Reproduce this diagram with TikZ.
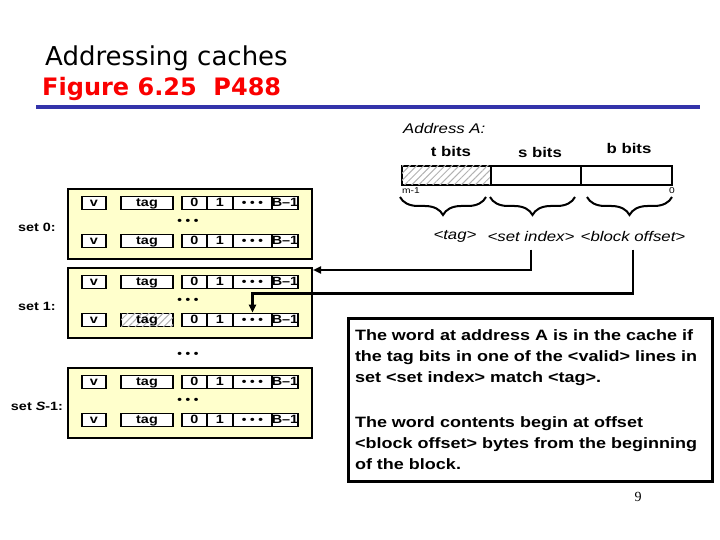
\documentclass[tikz,border=0pt]{standalone}
\usepackage{fontspec}
\setmainfont{Liberation Sans}
\newfontfamily\figfont[FakeStretch=1.2]{Liberation Sans}
\newfontfamily\titlefont{DejaVu Sans}
\newfontfamily\pagefont{Liberation Serif}
\usetikzlibrary{arrows.meta,patterns.meta,decorations.pathreplacing,positioning}
\definecolor{cacheyellow}{RGB}{255,255,204}
\definecolor{ruleblue}{RGB}{51,51,170}
\definecolor{titlered}{RGB}{250,0,0}

\tikzset{
  setbox/.style={draw, line width=2pt, fill=cacheyellow, minimum width=244pt, minimum height=70pt, inner sep=0pt},
  cell/.style={draw, line width=1.8pt, fill=white, minimum height=13pt, inner sep=0pt, text height=8.5pt, text depth=1.5pt,
               font=\figfont\bfseries\fontsize{12}{12}\selectfont},
  hatch/.style={postaction={pattern={Lines[angle=45,distance=5pt,line width=1pt]}, pattern color=gray!60}},
  field/.style={draw, line width=2pt, minimum height=19pt, inner sep=0pt},
  ptr/.style={line width=2.5pt, -{Triangle[length=8pt,width=7pt]}},
  brc/.style={decorate, decoration={brace, amplitude=18pt, mirror}, line width=2pt},
  lblbf/.style={font=\figfont\bfseries\fontsize{14}{14}\selectfont},
  lblit/.style={font=\figfont\itshape\fontsize{14}{14}\selectfont},
  dots/.style={font=\figfont\bfseries\fontsize{11}{11}\selectfont},
}

\begin{document}
\begin{tikzpicture}[x=1pt,y=-1pt]
    \useasboundingbox (0,0) rectangle (720,540);

    % Title
    \node[anchor=base west, inner sep=0pt, font=\titlefont\fontsize{26}{26}\selectfont] (title) at (45,66) {Addressing caches};
    \node[anchor=base west, inner sep=0pt, text=titlered, font=\titlefont\bfseries\fontsize{24}{24}\selectfont] (subtitle) at (42,96) {Figure 6.25\ \ P488};
    \draw[ruleblue, line width=4pt] (36,107) -- (700,107);

    % Cache sets
    \foreach \s/\top/\name in {0/189/set 0:, 1/268/set 1:, 2/368/set \textit{S}-1:} {
        \node[setbox] (set\s) at (190,\top+35) {};
        \node[font=\figfont\bfseries\fontsize{12}{12}\selectfont] (lab\s) at (37,\top+38) {\name};
        \foreach \r/\dy in {a/14, b/52} {
            \node[cell, minimum width=24pt] (v\s\r) at (94,\top+\dy) {v};
            \node[cell, minimum width=52pt] (tag\s\r) at (147,\top+\dy) {tag};
            \node[cell, minimum width=25pt] (blk\s\r) at (194.5,\top+\dy) {0};
            \node[cell, minimum width=26pt] (blkone\s\r) at (220,\top+\dy) {1};
            \node[cell, minimum width=39pt] (blkd\s\r) at (252.5,\top+\dy) {\fontsize{11}{11}\selectfont• • •};
            \node[cell, minimum width=26pt] (blkend\s\r) at (285,\top+\dy) {B–1};
        }
        \node[dots] (gap\s) at (188,\top+33) {• • •};
    }
    \node[cell, hatch, minimum width=52pt] (tag1b-h) at (tag1b) {tag};
    \node[dots] (setgap) at (188,355) {• • •};

    % Address A
    \node[anchor=west, inner sep=0pt, lblit] (addr) at (403,129) {Address A:};
    \node[lblbf] (tbits) at (451,151) {t bits};
    \node[lblbf] (sbits) at (540,152) {s bits};
    \node[lblbf] (bbits) at (629,148) {b bits};
    \node[field, hatch, minimum width=89pt] (tfield) at (446.5,175.5) {};
    \node[field, minimum width=90pt] (sfield) at (536,175.5) {};
    \node[field, minimum width=91pt] (bfield) at (626.5,175.5) {};
    \node[anchor=west, inner sep=0pt, font=\figfont\fontsize{8.5}{8.5}\selectfont] (msb) at (402,191) {m-1};
    \node[anchor=east, inner sep=0pt, font=\figfont\fontsize{8.5}{8.5}\selectfont] (lsb) at (675,191) {0};
    \foreach \a/\b in {400/486, 490/575, 587/672}
        \draw[brc] (\a,197) -- (\b,197);
    \node[lblit] (ftag) at (455,236) {<tag>};
    \node[lblit] (fset) at (531,236) {<set index>};
    \node[lblit] (foff) at (633,236) {<block offset>};

    % Pointers into the cache
    \draw[ptr] ([yshift=-5pt]fset.south) |- ([yshift=-3pt]set1.north east);
    \draw[ptr] ([yshift=-5pt]foff.south) |- ([yshift=19pt]blkd1b.north) -- (blkd1b.north);

    % Explanation
    \node[draw, line width=3pt, minimum width=364pt, minimum height=163pt, text width=350pt, align=left, inner sep=0pt,
          font=\figfont\bfseries\fontsize{15}{21}\selectfont] (note) at (530,399.5)
        {The word at address A is in the cache if\\the tag bits in one of the <valid> lines in\\set <set index> match <tag>.\\[24pt]The word contents begin at offset\\<block offset> bytes from the beginning\\of the block.};

    \node[font=\pagefont\fontsize{14}{14}\selectfont] (pageno) at (638,497) {9};
\end{tikzpicture}
\end{document}
